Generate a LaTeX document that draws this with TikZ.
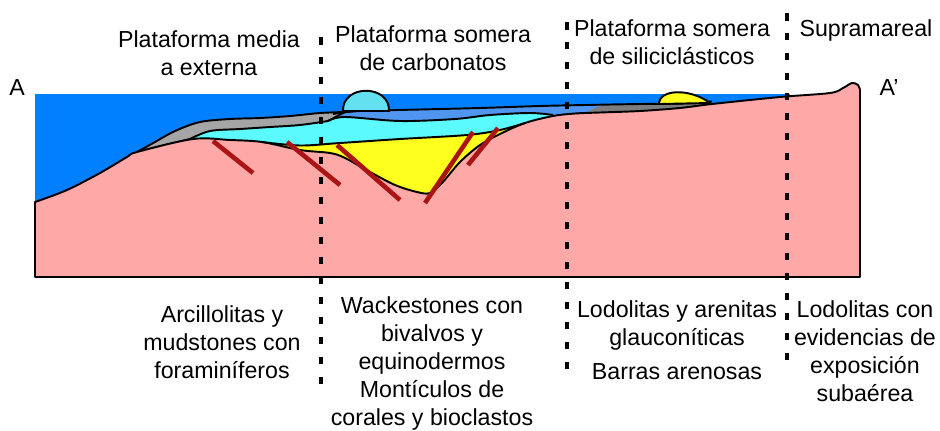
\documentclass[tikz,border=0pt]{standalone}
\usepackage{fontspec}
\setmainfont{Liberation Sans}
\definecolor{water}{RGB}{0,128,255}
\definecolor{rock}{RGB}{255,168,168}
\definecolor{midblue}{RGB}{80,150,240}
\definecolor{cyanlayer}{RGB}{90,250,255}
\definecolor{domecyan}{RGB}{100,225,240}
\definecolor{sandyellow}{RGB}{255,255,30}
\definecolor{graylayer}{RGB}{165,165,165}
\definecolor{lensgray}{RGB}{125,125,125}
\definecolor{faultred}{RGB}{170,20,20}
\begin{document}
\begin{tikzpicture}[x=0.02cm,y=-0.02cm,
  outline/.style={draw=black,line width=1.1pt,line join=round},
  fault/.style={draw=faultred,line width=2.6pt},
  zoneline/.style={draw=black,line width=2pt,dash pattern=on 0.15cm off 0.25cm},
  label/.style={font=\fontsize{13.2}{15.9}\selectfont,align=center,inner sep=0pt,anchor=north},
  pointlabel/.style={font=\fontsize{13.2}{15.9}\selectfont,inner sep=0pt,anchor=base},
  sm/.style={smooth,tension=0.55}]
\useasboundingbox (0,0) rectangle (940,430);

% sea water
\fill[water] (35,94) rectangle (790,205);

% outer shelf: mid blue carbonate wedge
\fill[midblue] plot[sm] coordinates {(333,114) (360,111) (420,109.5) (480,108) (540,106) (595,104.8) (640,104) (680,103.5) (712,101.5)}
  -- (712,125) -- (333,125) -- cycle;
% dark grey siliciclastic lens
\fill[lensgray] plot[sm] coordinates {(588,112) (603,105.5) (640,104.2) (680,103.6) (712,101.5)}
  -- (712,122) -- (588,122) -- cycle;
% light cyan carbonate layer
\fill[cyanlayer] plot[sm] coordinates {(190,139) (210,131) (240,129) (270,127) (300,125) (328,121)}
  -- plot[sm] coordinates {(328,121) (345,117) (400,121) (455,119) (490,115) (530,113) (553,115)}
  -- (553,140) -- (190,160) -- cycle;
% yellow basin fill
\fill[sandyellow] plot[sm] coordinates {(262,142) (300,145.5) (340,143) (400,139) (467,135) (500,130) (525,123)}
  -- (525,210) -- (262,210) -- cycle;
% grey outer-shelf band
\filldraw[outline,fill=graylayer] plot[sm] coordinates {(137,152) (155,142) (175,131) (200,122) (230,119) (260,118) (290,116) (320,113) (345,112)}
  -- plot[sm] coordinates {(345,112) (328,121)}
  -- plot[sm] coordinates {(328,121) (300,125) (270,127) (240,129) (210,131) (190,139)}
  -- (137,152) -- cycle;

% basement
\filldraw[outline,fill=rock] (35,277) -- plot[sm] coordinates {(35,202) (67,190) (100,173) (127,157) (137,152) (193,139) (230,140) (262,142) (300,150) (330,153) (345,158) (370,172) (395,185) (417,192) (430,193) (442,183) (460,162) (480,145) (500,134) (525,123) (553,116) (575,113.5) (600,112.5) (640,111) (680,108) (712,104) (780,97) (830,93) (843,88) (852,83) (858,85) (860,90)}
  -- (860,277) -- cycle;

% layer boundaries
\draw[outline] plot[sm] coordinates {(333,114) (360,111) (420,109.5) (480,108) (540,106) (595,104.8) (640,104) (680,103.5) (712,101.5)};
\draw[outline] plot[sm] coordinates {(328,121) (345,117) (400,121) (455,119) (490,115) (530,113) (553,115)};
\draw[outline] plot[sm] coordinates {(262,142) (300,145.5) (340,143) (400,139) (467,135) (500,130) (525,123)};

% carbonate mound and sand bar
\filldraw[outline,fill=domecyan] (343,111) .. controls (342,84) and (390,84) .. (389,111) -- cycle;
\filldraw[outline,fill=sandyellow] (659,104) .. controls (659,89) and (690,88) .. (710,103) -- cycle;

% normal faults
\coordinate (f1a) at (213,141); \coordinate (f1b) at (253,173);
\coordinate (f2a) at (287,142); \coordinate (f2b) at (340,185);
\coordinate (f3a) at (337,145); \coordinate (f3b) at (400,200);
\coordinate (f4a) at (425,203); \coordinate (f4b) at (473,132);
\coordinate (f5a) at (468,165); \coordinate (f5b) at (498,128);
\draw[fault] (f1a) -- (f1b);
\draw[fault] (f2a) -- (f2b);
\draw[fault] (f3a) -- (f3b);
\draw[fault] (f4a) -- (f4b);
\draw[fault] (f5a) -- (f5b);

% zone limits
\coordinate (d1t) at (321,37); \coordinate (d1b) at (321,390);
\coordinate (d2t) at (567,22); \coordinate (d2b) at (567,370);
\coordinate (d3t) at (787,13); \coordinate (d3b) at (787,365);
\draw[zoneline] (d1t) -- (d1b);
\draw[zoneline] (d2t) -- (d2b);
\draw[zoneline] (d3t) -- (d3b);

% section ends
\node[pointlabel] (ptA) at (17,95) {A};
\node[pointlabel] (ptAp) at (889,95) {A’};

% environments
\node[label] (zmed) at (209,30.4) {Plataforma media\\a externa};
\node[label] (zcarb) at (433,25.4) {Plataforma somera\\de carbonatos};
\node[label] (zsil) at (672,19.4) {Plataforma somera\\de siliciclásticos};
\node[label] (zsup) at (866,19.4) {Supramareal};

% lithologies
\node[label] (lmed) at (222,305.4) {Arcillolitas y\\mudstones con\\foraminíferos};
\node[label] (lcarb) at (432,296.4) {Wackestones con\\bivalvos y\\equinodermos\\Montículos de\\corales y bioclastos};
\node[label] (lsil) at (677,300.4) {Lodolitas y arenitas\\glauconíticas};
\node[label] (lbar) at (677,363.4) {Barras arenosas};
\node[label] (lsup) at (865,300.4) {Lodolitas con\\evidencias de\\exposición\\subaérea};
\end{tikzpicture}
\end{document}
